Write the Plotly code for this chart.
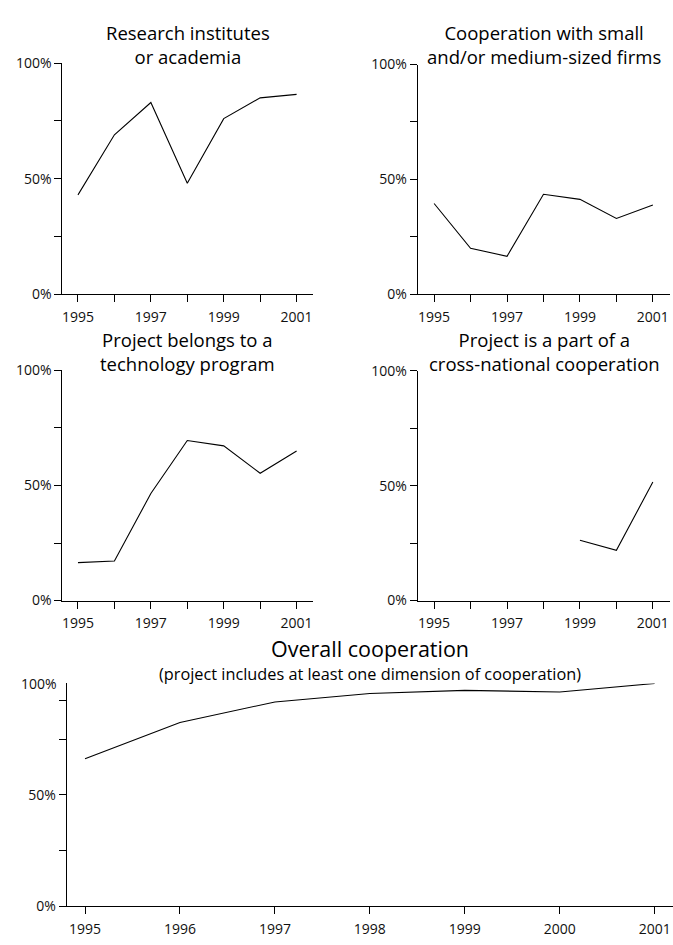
import plotly.graph_objects as go

years = [1995, 1996, 1997, 1998, 1999, 2000, 2001]
research_academia = [0.43, 0.69, 0.83, 0.48, 0.76, 0.85, 0.865]
small_medium_firms = [0.395, 0.20, 0.165, 0.435, 0.413, 0.33, 0.388]
technology_program = [0.165, 0.172, 0.465, 0.695, 0.672, 0.553, 0.65]
cross_national = [None, None, None, None, 0.263, 0.219, 0.516]
overall = [0.662, 0.825, 0.917, 0.955, 0.969, 0.962, 1.0]

small_titles = [
    "Research institutes<br>or academia",
    "Cooperation with small<br>and/or medium-sized firms",
    "Project belongs to a<br>technology program",
    "Project is a part of a<br>cross-national cooperation",
]
big_title = "Overall cooperation"
big_subtitle = "(project includes at least one dimension of cooperation)"

year_labels_sparse = ["1995", "", "1997", "", "1999", "", "2001"]
year_labels_full = [str(y) for y in years]
pct_vals = [0, 0.25, 0.5, 0.75, 1.0]
pct_labels = ["0%", "", "50%", "", "100%"]

W, H = 673, 945
FONT = "Open Sans"
TICK_SIZE = 14

def px_x(p):
    return p / W

def px_y(p):
    return 1 - p / H

fig = go.Figure()
series = [research_academia, small_medium_firms, technology_program, cross_national, overall]
for i, s in enumerate(series, start=1):
    fig.add_trace(go.Scatter(
        x=years, y=s, mode="lines",
        line=dict(color="black", width=1.1),
        xaxis="x" if i == 1 else f"x{i}",
        yaxis="y" if i == 1 else f"y{i}",
        connectgaps=False, showlegend=False, hoverinfo="skip",
    ))

axis_common = dict(
    showline=True, linecolor="black", linewidth=1,
    ticks="outside", ticklen=7, tickwidth=1, tickcolor="black",
    showgrid=False, zeroline=False,
    tickfont=dict(family=FONT, size=TICK_SIZE, color="#111"),
)

panels = [
    ((62.3, 313.0), (54.3, 290.0), (1994.57, 2001.45)),
    ((417.7, 670.0), (55.7, 290.0), (1994.55, 2001.47)),
    ((62.3, 313.0), (367.7, 602.7), (1994.57, 2001.45)),
    ((417.7, 670.0), (368.3, 602.7), (1994.55, 2001.47)),
    ((66.7, 673.0), (687.3, 914.7), (1994.807, 2001.193)),
]

layout = dict(
    width=W, height=H,
    margin=dict(l=0, r=0, t=0, b=0),
    paper_bgcolor="white", plot_bgcolor="white",
    showlegend=False,
    font=dict(family=FONT, color="black"),
)

for i, ((x0, x1), (ytop, ybot), xr) in enumerate(panels, start=1):
    xa = dict(axis_common)
    xa.update(domain=[px_x(x0), px_x(x1)], range=list(xr),
              tickvals=years,
              ticktext=year_labels_full if i == 5 else year_labels_sparse,
              ticklabelstandoff=3,
              anchor="y" if i == 1 else f"y{i}")
    ya = dict(axis_common)
    if i == 5:
        ya.update(tickvals=[0, 0.25, 0.5, 0.75, 0.925],
                  ticktext=["0%", "", "50%", "", ""])
    else:
        ya.update(tickvals=pct_vals, ticktext=pct_labels)
    ya.update(domain=[px_y(ybot), px_y(ytop)], range=[0, 1],
              anchor="x" if i == 1 else f"x{i}")
    layout["xaxis" if i == 1 else f"xaxis{i}"] = xa
    layout["yaxis" if i == 1 else f"yaxis{i}"] = ya

fig.update_layout(**layout)

annotations = []
title_pos = [(187.5, 35.5), (544.0, 35.5), (187.5, 348.5), (544.0, 348.0)]
for txt, (cx, cy) in zip(small_titles, title_pos):
    annotations.append(dict(
        text=txt, x=px_x(cx), y=px_y(cy), xref="paper", yref="paper",
        xanchor="center", yanchor="middle", showarrow=False,
        font=dict(family=FONT, size=18.5, color="black"),
    ))
annotations.append(dict(
    text=big_title, x=px_x(370), y=px_y(652), xref="paper", yref="paper",
    xanchor="center", yanchor="middle", showarrow=False,
    font=dict(family=FONT, size=21.5, color="black"),
))
annotations.append(dict(
    text=big_subtitle, x=px_x(370), y=px_y(678), xref="paper", yref="paper",
    xanchor="center", yanchor="middle", showarrow=False,
    font=dict(family=FONT, size=16.3, color="black"),
))
annotations.append(dict(
    text="100%", x=px_x(58.5), y=1.0, xref="paper", yref="y5",
    xanchor="right", yanchor="middle", showarrow=False,
    font=dict(family=FONT, size=TICK_SIZE, color="#111"),
))
fig.update_layout(annotations=annotations)

fig.write_html(
    "out.html",
    config={"displayModeBar": False},
    post_script=("document.documentElement.style.margin='0';"
                 "document.body.style.margin='0';document.body.style.padding='0';"
                 "document.documentElement.style.overflow='hidden';"
                 "document.body.style.overflow='hidden';"),
)
